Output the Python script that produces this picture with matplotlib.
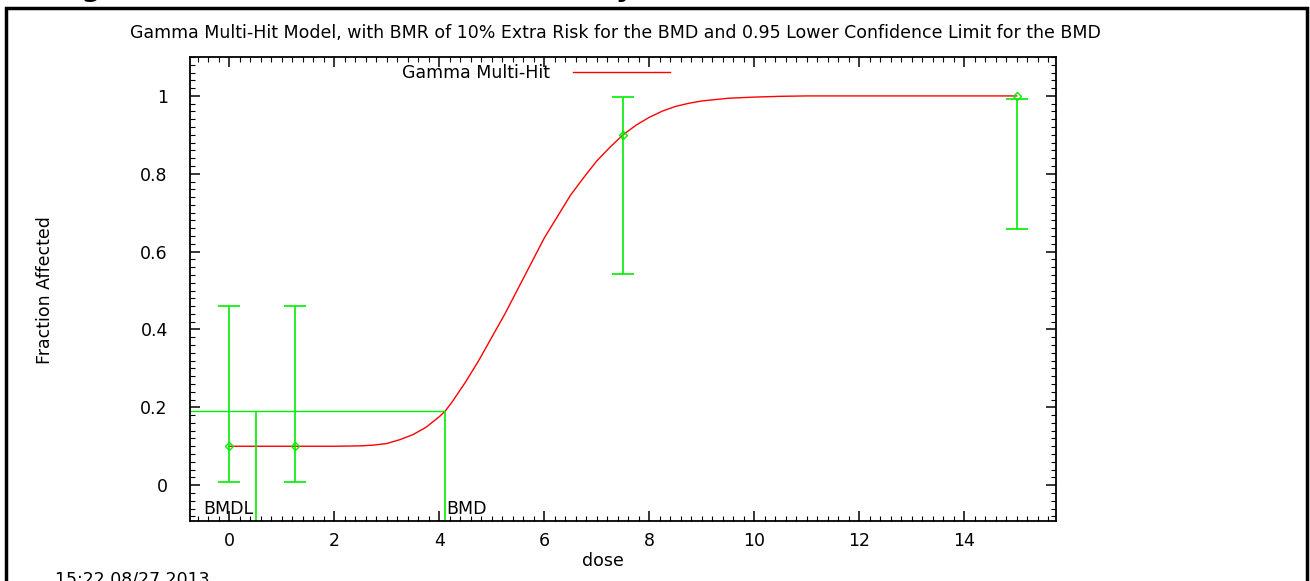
import matplotlib
matplotlib.use("Agg")
import matplotlib.pyplot as plt
from matplotlib.ticker import MultipleLocator
from matplotlib.patches import Rectangle

plt.rcParams['font.family'] = ['DejaVu Sans']

# observed data (dose groups, fraction affected, confidence limits)
dose = [0, 1.25, 7.5, 15]
frac = [0.1, 0.1, 0.9, 1.0]
ci_low = [0.007, 0.007, 0.542, 0.657]
ci_high = [0.46, 0.46, 0.996, 0.992]

# fitted gamma multi-hit curve
curve_dose = [0, 0.5, 1, 1.5, 2, 2.5, 2.75, 3.0, 3.25, 3.5, 3.75, 4.0, 4.11,
              4.25, 4.5, 4.75, 5.0, 5.25, 5.5, 5.75, 6.0, 6.25, 6.5, 6.75,
              7.0, 7.25, 7.5, 7.75, 8.0, 8.25, 8.5, 8.75, 9.0, 9.5, 10, 10.5,
              11, 12, 13, 14, 15]
curve_frac = [0.1, 0.1, 0.1, 0.1, 0.1, 0.101, 0.103, 0.107, 0.117, 0.130,
              0.149, 0.176, 0.19, 0.215, 0.265, 0.32, 0.38, 0.44, 0.505, 0.57,
              0.635, 0.69, 0.745, 0.79, 0.833, 0.868, 0.9, 0.925, 0.945, 0.961,
              0.973, 0.981, 0.987, 0.994, 0.997, 0.999, 1.0, 1.0, 1.0, 1.0, 1.0]

bmd = 4.11
bmdl = 0.51
bmr_level = 0.19

green = '#00ee00'
red = '#ff0000'
fs = 12.5

fig = plt.figure(figsize=(13.1, 5.81), dpi=100)
ax = fig.add_axes([190 / 1310, 1 - 521 / 581, 866 / 1310, 464 / 581])

xlo, xhi = -0.75, 15.75
ylo, yhi = -0.092, 1.1

ax.plot(curve_dose, curve_frac, color=red, lw=1.0, label='Gamma Multi-Hit')

ax.vlines(dose, ci_low, ci_high, color=green, lw=1.2)
ax.plot(dose, ci_low, ls='none', marker='_', ms=16, mew=1.2, color=green)
ax.plot(dose, ci_high, ls='none', marker='_', ms=16, mew=1.2, color=green)
ax.plot(dose, frac, ls='none', marker='D', ms=4, mfc='none', mec=green, mew=1.0)

# BMD / BMDL markers
ax.hlines(bmr_level, xlo, bmd, color=green, lw=1.0)
ax.vlines([bmdl, bmd], ylo, bmr_level, color=green, lw=1.2)
ax.text(bmdl - 0.05, -0.062, 'BMDL', ha='right', va='center', fontsize=fs)
ax.text(bmd + 0.02, -0.062, 'BMD', ha='left', va='center', fontsize=fs)

ax.set_xlim(xlo, xhi)
ax.set_ylim(ylo, yhi)
ax.set_xticks([0, 2, 4, 6, 8, 10, 12, 14])
ax.set_yticks([0, 0.2, 0.4, 0.6, 0.8, 1])
ax.set_yticklabels(['0', '0.2', '0.4', '0.6', '0.8', '1'])
ax.xaxis.set_minor_locator(MultipleLocator(0.2))
ax.yaxis.set_minor_locator(MultipleLocator(0.02))
ax.tick_params(which='both', direction='in', top=True, right=True, labelsize=fs)
ax.tick_params(which='major', length=7, width=1.1)
ax.tick_params(which='minor', length=3.5, width=0.8)
ax.tick_params(axis='x', which='major', pad=8)
ax.tick_params(axis='y', which='major', pad=16)
for s in ax.spines.values():
    s.set_linewidth(1.3)

ax.legend(loc='upper left', bbox_to_anchor=(0.245, 0.985), frameon=False,
          markerfirst=False, handlelength=5.6, handletextpad=1.3,
          borderpad=0, borderaxespad=0, fontsize=fs)

fig.text(615 / 1310, 1 - 33 / 581, 'Gamma Multi-Hit Model, with BMR of 10% Extra Risk '
         'for the BMD and 0.95 Lower Confidence Limit for the BMD',
         ha='center', va='center', fontsize=fs)
fig.text(45 / 1310, 1 - 290 / 581, 'Fraction Affected', rotation=90,
         ha='center', va='center', fontsize=fs)
fig.text(603 / 1310, 1 - 561 / 581, 'dose', ha='center', va='center', fontsize=fs)
fig.text(55 / 1310, -3 / 581, '15:22 08/27 2013', ha='left', va='baseline', fontsize=fs)

# clipped report caption above the frame
fig.text(662 / 1310, 1 + 4 / 581, 'Figure 2. Plot of Fraction Affected by dose, '
         'with BMDL for the Selected Model', ha='center', va='baseline',
         fontsize=20, fontweight='bold')

# outer frame
fig.patches.append(Rectangle((5.5 / 1310, -0.1), 1301 / 1310, 0.1 + 1 - 8 / 581,
                             transform=fig.transFigure, fill=False,
                             edgecolor='black', lw=2.5))

fig.savefig('out.png', dpi=100)
